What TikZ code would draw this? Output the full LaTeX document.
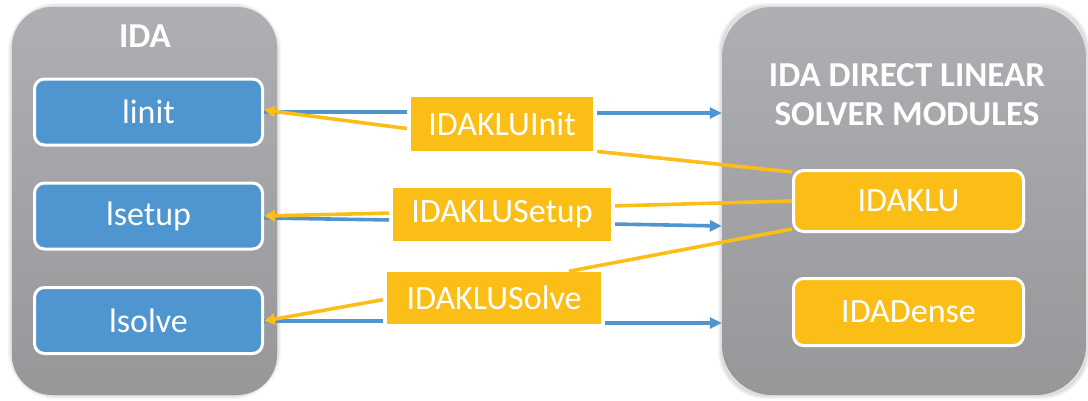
\documentclass[tikz,border=0pt]{standalone}
\usepackage{fontspec}
\setmainfont{Carlito}
\usetikzlibrary{arrows.meta}

\definecolor{idablue}{HTML}{4F95CF}
\definecolor{idayellow}{HTML}{FBBE16}
\definecolor{panetop}{HTML}{AEAFB2}
\definecolor{panebot}{HTML}{97979A}

\tikzset{
  pane/.style={rounded corners=#1, top color=panetop, bottom color=panebot, draw=none},
  paneglow/.style={draw=black, opacity=0.035, line width=#1, rounded corners=44pt},
  bluebox/.style={draw=white, line width=3pt, rounded corners=10pt, fill=idablue,
    text=white, minimum width=228pt, minimum height=66pt, inner sep=0pt},
  yelbox/.style={draw=white, line width=3pt, rounded corners=10pt, fill=idayellow,
    text=white, minimum width=230pt, inner sep=0pt},
  callbox/.style={fill=idayellow, text=white, inner sep=0pt},
  bigtext/.style={font=\fontsize{34}{39}\selectfont},
  title/.style={font=\fontsize{35}{39}\selectfont\bfseries, text=white, align=center},
  blueline/.style={draw=idablue, line width=3.6pt},
  yelline/.style={draw=idayellow, line width=3.6pt},
  bluearrow/.style={blueline, -{Triangle[length=12pt,width=11pt]}},
  yelarrow/.style={yelline, -{Triangle[length=11pt,width=11pt]}},
}

\begin{document}
\begin{tikzpicture}[x=1pt, y=-1pt]
\useasboundingbox (0,0) rectangle (1088,400);

% soft halo round the two grey panels
\foreach \w in {2,4,6,8} {
  \draw[paneglow=\w pt] (12,7) rectangle (277,395);
  \draw[paneglow=\w pt] (722,7) rectangle (1086,395);
}

% grey panels
\node[pane=40pt, minimum width=265pt, minimum height=388pt, inner sep=0pt] (ida) at (144.5,201) {};
\node[pane=50pt, minimum width=364pt, minimum height=388pt, inner sep=0pt] (dls) at (904,201) {};

% panel titles
\node[title] (idatitle) at (145,36) {IDA};
\node[title] (dlstitle) at (907,95) {IDA DIRECT LINEAR\\SOLVER MODULES};

% IDA interface functions
\node[bluebox, bigtext] (linit)  at (148.5,112)   {linit};
\node[bluebox, bigtext] (lsetup) at (148.5,216)   {lsetup};
\node[bluebox, bigtext] (lsolve) at (148.5,320.5) {lsolve};

% linear solver modules
\node[yelbox, bigtext, minimum height=61pt] (klu)   at (908.5,201) {IDAKLU};
\node[yelbox, bigtext, minimum height=67pt] (dense) at (908.5,312) {IDADense};

% KLU routines attached to the interface
\node[callbox, bigtext, minimum width=182pt, minimum height=54pt] (init)  at (502,124)   {IDAKLUInit};
\node[callbox, bigtext, minimum width=218pt, minimum height=53pt] (setup) at (502,214.5) {IDAKLUSetup};
\node[callbox, bigtext, minimum width=214pt, minimum height=52pt] (solve) at (494,298)   {IDAKLUSolve};

% IDA -> routine -> solver module (blue)
\draw[blueline, shorten >=4pt] (linit.east |- 0,112) -- (init.west |- 0,112);
\draw[bluearrow, shorten <=4pt] (init.east |- 0,113) -- (dls.west |- 0,113);

\draw[blueline, shorten >=4pt] (lsetup.east |- 0,218) -- (setup.west |- 0,220);
\draw[bluearrow, shorten <=4pt] (setup.east |- 0,224) -- (dls.west |- 0,226);

\draw[blueline, shorten >=4pt] (lsolve.east |- 0,321) -- (solve.west |- 0,321);
\draw[bluearrow, shorten <=4pt] (solve.east |- 0,323) -- (dls.west |- 0,323);

% solver module -> routine -> IDA (yellow)
\draw[yelline, shorten >=4pt] (klu.west |- 0,172) -- (init.east |- 0,151);
\draw[yelarrow, shorten <=4pt] (init.west |- 0,129) -- (linit.east |- 0,110);

\draw[yelline, shorten >=4pt] (klu.west |- 0,201) -- (setup.east |- 0,206);
\draw[yelarrow, shorten <=4pt] (setup.west |- 0,213) -- (lsetup.east |- 0,216);

\draw[yelline, shorten >=4pt] (klu.west |- 0,229) -- (565,272);
\draw[yelarrow, shorten <=4pt] (solve.west |- 0,299) -- (lsolve.east |- 0,321);
\end{tikzpicture}
\end{document}
